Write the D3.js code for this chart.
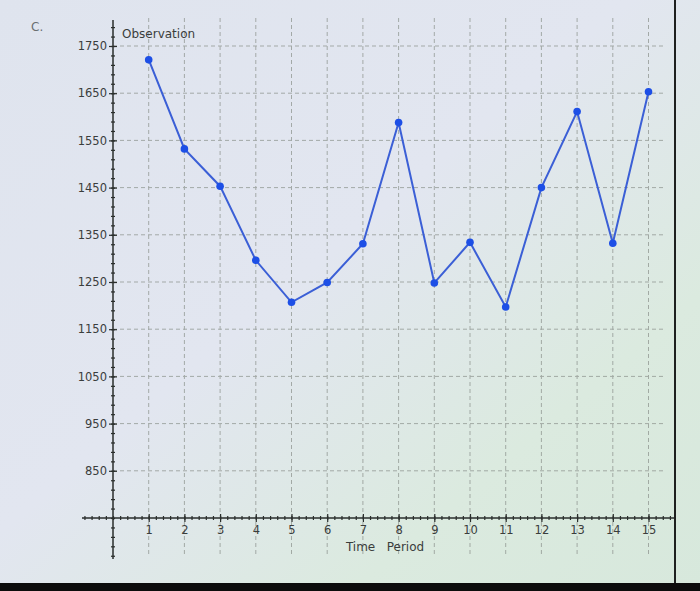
<!DOCTYPE html>
<html><head><meta charset="utf-8">
<script src="https://cdn.jsdelivr.net/npm/d3@7"></script>
<style>
html,body{margin:0;padding:0;background:#dde6ea;}
svg{display:block;}
text{font-family:"DejaVu Sans",sans-serif;}
</style></head>
<body>
<svg id="c" width="700" height="591"></svg>
<script>
const periods = [1,2,3,4,5,6,7,8,9,10,11,12,13,14,15];
const observations = [1721,1532,1453,1296,1207,1249,1331,1588,1248,1334,1197,1450,1611,1332,1653];
const yTicks = [850,950,1050,1150,1250,1350,1450,1550,1650,1750];
const xTicks = [1,2,3,4,5,6,7,8,9,10,11,12,13,14,15];

const svg = d3.select("#c");
const W = 700, H = 591;

// background (photo-like soft gradient)
const defs = svg.append("defs");
const g1 = defs.append("linearGradient").attr("id","bg").attr("x1","0").attr("y1","0").attr("x2","1").attr("y2","1");
g1.append("stop").attr("offset","0").attr("stop-color","#dfe4ee");
g1.append("stop").attr("offset","0.45").attr("stop-color","#e2e6f0");
g1.append("stop").attr("offset","0.75").attr("stop-color","#dbeadf");
g1.append("stop").attr("offset","1").attr("stop-color","#d7e8dc");
svg.append("rect").attr("width",W).attr("height",H).attr("fill","url(#bg)");

const x = d3.scaleLinear().domain([0,15]).range([113,648.5]);
const y = d3.scaleLinear().domain([750,1750]).range([518,46]);

// grid
const grid = svg.append("g").attr("stroke","#8f9590").attr("stroke-width",1).attr("stroke-dasharray","4,3").attr("opacity",0.75);
grid.selectAll("line.v").data(xTicks).join("line")
  .attr("x1",d=>x(d)).attr("x2",d=>x(d)).attr("y1",18).attr("y2",556);
grid.selectAll("line.h").data(yTicks).join("line")
  .attr("x1",x(0)).attr("x2",666).attr("y1",d=>y(d)).attr("y2",d=>y(d));

// axes lines
const axisColor = "#2a2e2c";
svg.append("line").attr("x1",x(0)).attr("x2",x(0)).attr("y1",20).attr("y2",559).attr("stroke",axisColor).attr("stroke-width",1.5);
svg.append("line").attr("x1",82).attr("x2",675).attr("y1",y(750)).attr("y2",y(750)).attr("stroke",axisColor).attr("stroke-width",1.5);

// y axis ticks via d3 axis
const yMinor = d3.range(650,1800,20);
const yMinorAx = svg.append("g").attr("transform",`translate(${x(0)+2},0)`)
  .call(d3.axisLeft(y).tickValues(yMinor.filter(v=>y(v)>=20 && y(v)<=559)).tickSize(4).tickFormat(""));
const yAx = svg.append("g").attr("transform",`translate(${x(0)+4},0)`)
  .call(d3.axisLeft(y).tickValues(yTicks).tickSize(8).tickPadding(2).tickFormat(d3.format("d")));
[yMinorAx,yAx].forEach(a=>{a.select(".domain").remove(); a.selectAll("line").attr("stroke",axisColor).attr("stroke-width",1.2);});
yAx.selectAll("text").attr("fill","#3a3d3c").attr("font-size","11.5px");

// x axis ticks
const xMinor = d3.range(-0.8,15.7,0.2).map(v=>+v.toFixed(1));
const xMinorAx = svg.append("g").attr("transform",`translate(0,${y(750)+2})`)
  .call(d3.axisTop(x).tickValues(xMinor).tickSize(4).tickFormat(""));
const xAx = svg.append("g").attr("transform",`translate(0,${y(750)-4})`)
  .call(d3.axisBottom(x).tickValues(xTicks).tickSize(8).tickPadding(4).tickFormat(d3.format("d")));
[xMinorAx,xAx].forEach(a=>{a.select(".domain").remove(); a.selectAll("line").attr("stroke",axisColor).attr("stroke-width",1.2);});
xAx.selectAll("text").attr("fill","#3a3d3c").attr("font-size","11.5px");

// extra small ticks on y axis below x axis
// axis titles
svg.append("text").attr("x",122).attr("y",38).attr("font-size","12px").attr("fill","#3a3d3c").text("Observation");
svg.append("text").attr("x",385).attr("y",551).attr("text-anchor","middle").attr("font-size","12px").attr("fill","#3a3d3c")
  .style("white-space","pre").text("Time   Period");
svg.append("text").attr("x",31).attr("y",31).attr("font-size","12px").attr("fill","#6a6e72").text("C.");

// line + points
const line = d3.line().x((d,i)=>x(periods[i])).y(d=>y(d));
svg.append("path").datum(observations).attr("d",line).attr("fill","none").attr("stroke","#3b5fd6").attr("stroke-width",2);
svg.selectAll("circle.pt").data(observations).join("circle")
  .attr("cx",(d,i)=>x(periods[i])).attr("cy",d=>y(d)).attr("r",3.8).attr("fill","#1d4fe6");

// right border and bottom band
svg.append("line").attr("x1",675).attr("x2",675).attr("y1",0).attr("y2",583).attr("stroke","#1e201f").attr("stroke-width",2);
svg.append("rect").attr("x",0).attr("y",583).attr("width",W).attr("height",8).attr("fill","#0c0c0c");
</script>
</body></html>
